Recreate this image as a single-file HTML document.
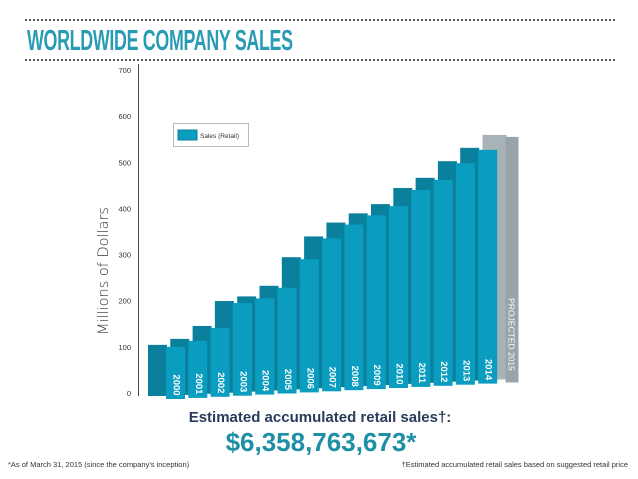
<!DOCTYPE html>
<html><head><meta charset="utf-8">
<style>
body{margin:0;background:#fff;width:638px;height:479px;overflow:hidden;font-family:"Liberation Sans",sans-serif;}
.dots{position:absolute;left:25px;width:590px;height:0;border-top:2px dotted #555;}
#title{position:absolute;left:27px;top:25px;font-family:"Liberation Sans Narrow","Liberation Sans",sans-serif;font-weight:bold;font-size:29px;color:#2a9bb5;transform:scaleX(0.615);transform-origin:left top;letter-spacing:-0.5px;white-space:nowrap;}
</style></head><body>
<div class="dots" style="top:19px"></div>
<div id="title">WORLDWIDE COMPANY SALES</div>
<div class="dots" style="top:59px"></div>
<svg id="chart" width="638" height="479" style="position:absolute;left:0;top:0">
<text x="108" y="271" transform="rotate(-90 108 271)" text-anchor="middle" font-family="DejaVu Sans, sans-serif" font-size="14.5" fill="#333" font-weight="300">Millions of Dollars</text>
<line x1="138.5" y1="64" x2="138.5" y2="396" stroke="#444" stroke-width="1"/>
<g id="ticks"></g>
<g id="bars"></g>
<g>
<rect x="173.5" y="123.5" width="75" height="23" fill="#fff" stroke="#bbb"/>
<rect x="178" y="130" width="19" height="10" fill="#0b9dc0" stroke="#0a7f9a"/>
<text x="200" y="138" font-size="6.5" fill="#333">Sales (Retail)</text>
</g>
<text x="320" y="422" text-anchor="middle" font-weight="bold" font-size="15" fill="#2b3b5c">Estimated accumulated retail sales†:</text>
<text x="321" y="451" text-anchor="middle" font-weight="bold" font-size="26" fill="#1f8fa6">$6,358,763,673*</text>
<text x="8" y="467" font-size="7.5" fill="#333">*As of March 31, 2015 (since the company's inception)</text>
<text x="628" y="467" text-anchor="end" font-size="7.5" fill="#333">†Estimated accumulated retail sales based on suggested retail price</text>
</svg>
<script>
const years=["2000","2001","2002","2003","2004","2005","2006","2007","2008","2009","2010","2011","2012","2013","2014","PROJECTED 2015"];
const sales=[100,113,141,195,205,228,290,335,365,385,405,440,462,498,527,555];
const projected=[false,false,false,false,false,false,false,false,false,false,false,false,false,false,false,true];
const yTicks=[0,100,200,300,400,500,600,700];
const NS="http://www.w3.org/2000/svg";
function y(v){return 393-v*(323/700);}
function xc(i){return 176+i*22.3;}
function baseY(i){return 399-i*1.1;}
const tg=document.getElementById('ticks');
yTicks.forEach(t=>{
 const e=document.createElementNS(NS,'text');
 e.setAttribute('x',131);e.setAttribute('y',y(t)+3);
 e.setAttribute('text-anchor','end');e.setAttribute('font-size','7.5');e.setAttribute('fill','#333');
 
 
 e.textContent=t;tg.appendChild(e);
});
const bg=document.getElementById('bars');
for(let i=years.length-1;i>=0;i--){
 const cx=xc(i),top=y(sales[i]),b=baseY(i);
 const g=document.createElementNS(NS,'g');
 
 
 const p=projected[i];
 const d=document.createElementNS(NS,'rect');
 d.setAttribute('x',cx-28);d.setAttribute('y',top-2);d.setAttribute('width',p?24:19);d.setAttribute('height',b-top-1);
 d.setAttribute('fill',p?'#a8b3b8':'#0a809c');
 
 
 g.appendChild(d);
 const f=document.createElementNS(NS,'rect');
 f.setAttribute('x',p?cx-5:cx-10);f.setAttribute('y',top);f.setAttribute('width',p?13:19);f.setAttribute('height',b-top);
 f.setAttribute('fill',p?'#97a4aa':'#0b9dc0');
 
 
 g.appendChild(f);
 const t=document.createElementNS(NS,'text');
 const lx=p?cx+1:cx, ly=p?b-48:b-14;
 t.setAttribute('x',lx);t.setAttribute('y',ly);
 t.setAttribute('transform','rotate(90 '+lx+' '+ly+')');
 t.setAttribute('text-anchor','middle');t.setAttribute('dominant-baseline','central');
 t.setAttribute('font-family','Liberation Sans Narrow, Liberation Sans, sans-serif');
 t.setAttribute('font-weight',p?'normal':'bold');t.setAttribute('font-size',p?'8.5':'9.5');t.setAttribute('fill','#fff');
 
 
 t.textContent=years[i];
 g.appendChild(t);
 bg.appendChild(g);
}
</script>
</body></html>
